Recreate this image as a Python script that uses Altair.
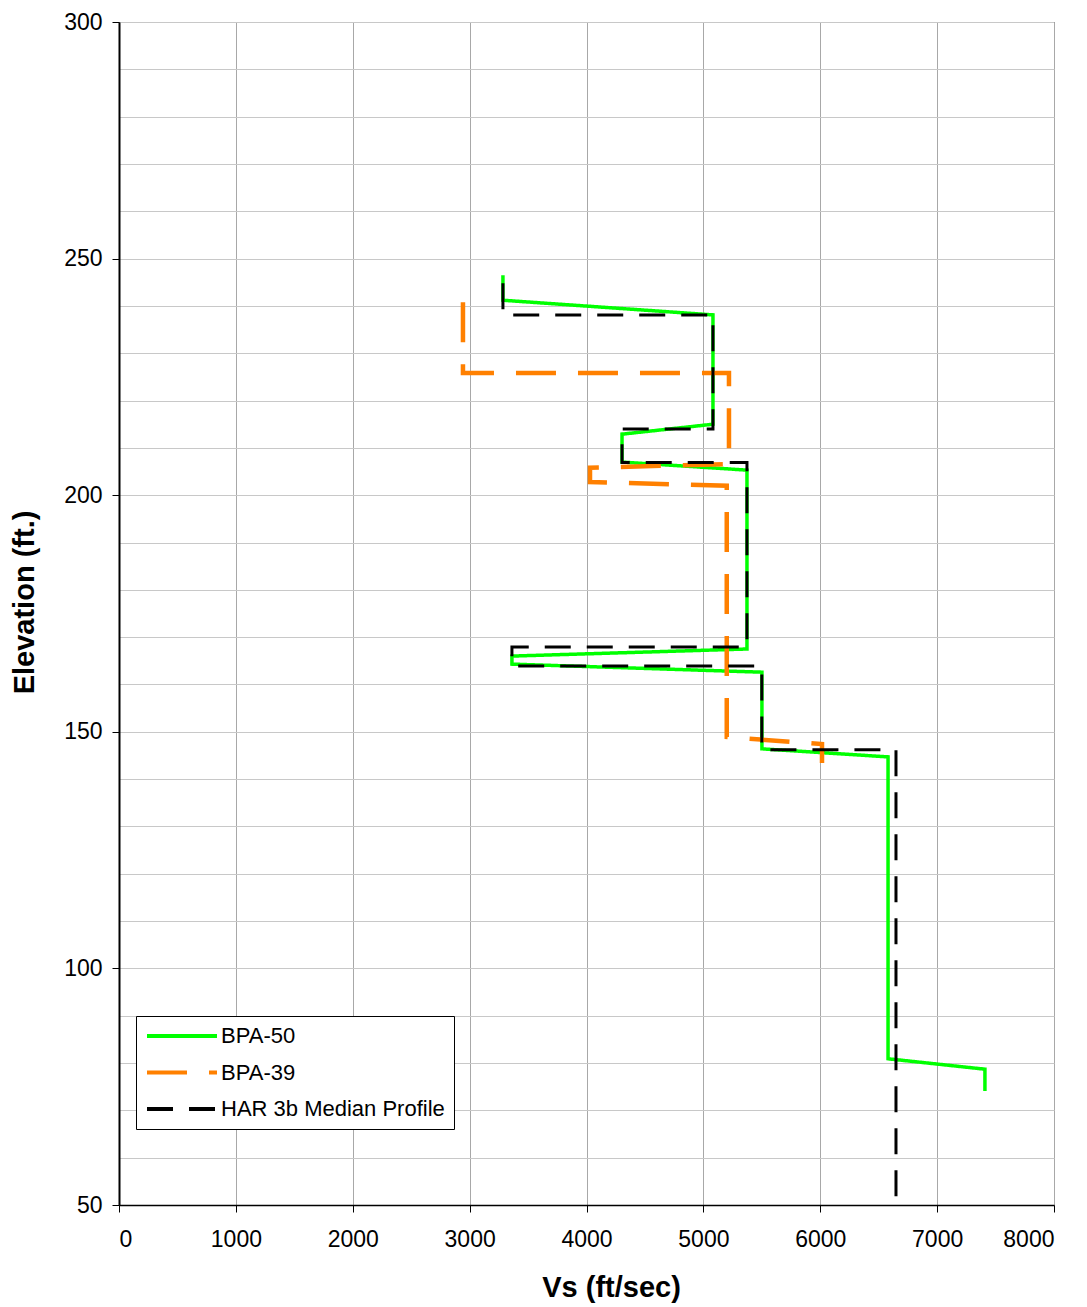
import altair as alt
import pandas as pd

# ---- data ----
series_names = ["BPA-50", "BPA-39", "HAR 3b Median Profile"]

bpa50_vs = [3285, 3285, 5082, 5082, 4304, 4304, 5373, 5373, 3362, 3362, 5501, 5501, 6580, 6580, 7409, 7409]
bpa50_elev = [246.5, 241.2, 238.1, 215.0, 212.9, 207.0, 205.3, 167.5, 166.0, 164.3, 162.6, 146.4, 144.7, 80.9, 78.7, 74.1]

bpa39_vs = [2943, 2943, 5219, 5219, 4030, 4030, 5200, 5200, 6015, 6015]
bpa39_elev = [240.8, 225.8, 225.8, 206.6, 205.8, 202.8, 202.0, 148.9, 147.4, 143.4]

har_vs = [3285, 3285, 5082, 5082, 4304, 4304, 5373, 5373, 3362, 3362, 5500, 5500, 6648, 6648]
har_elev = [244.8, 238.1, 238.1, 214.0, 214.0, 206.9, 206.9, 167.9, 167.9, 163.9, 163.9, 146.2, 146.2, 50.0]

x_ticks = list(range(0, 8001, 1000))
y_grid = list(range(50, 301, 10))

colors = ["#00FF00", "#FF8000", "#000000"]
dashes = [[1, 0], [40, 22], [26, 16]]
widths = [3.5, 4.5, 3]

rows = []
for name, xs, ys in zip(series_names, [bpa50_vs, bpa39_vs, har_vs], [bpa50_elev, bpa39_elev, har_elev]):
    for i, (x, y) in enumerate(zip(xs, ys)):
        rows.append({"series": name, "vs": x, "elev": y, "idx": i})
df = pd.DataFrame(rows)

FONT = "Liberation Sans"

x_enc = alt.X(
    "vs:Q",
    scale=alt.Scale(domain=[0, 8000], nice=False, zero=False),
    axis=alt.Axis(
        values=x_ticks, format="d", title="Vs (ft/sec)", grid=True, gridColor="#a8a8a8", gridWidth=1,
        tickSize=7, tickColor="black", domainColor="black", domainWidth=1.5,
        labelFont=FONT, labelFontSize=23, labelColor="black", labelPadding=16,
        titleFont=FONT, titleFontSize=29, titleFontWeight="bold", titleColor="black",
        titleX=492, titleY=91, titleAlign="center", titleBaseline="alphabetic", titleAnchor="start",
    ),
)
y_enc = alt.Y(
    "elev:Q",
    scale=alt.Scale(domain=[50, 300], nice=False, zero=False),
    axis=alt.Axis(
        values=y_grid, format="d", title="Elevation (ft.)", grid=True, gridColor="#c8c8c8", gridWidth=1,
        tickSize=7, tickColor="black",
        tickOpacity={"condition": {"test": "datum.value % 50 == 0", "value": 1}, "value": 0},
        labelExpr="datum.value % 50 == 0 ? datum.label : ''",
        domainColor="black", domainWidth=2,
        labelFont=FONT, labelFontSize=23, labelColor="black", labelPadding=10,
        titleFont=FONT, titleFontSize=29, titleFontWeight="bold", titleColor="black",
        titleX=-86, titleY=580, titleAlign="center", titleBaseline="alphabetic", titleAngle=270,
        titleAnchor="start",
    ),
)

legend_kw = dict(
    orient="none", legendX=17, legendY=994, title=None,
    symbolType="M-5,0L5,0", symbolSize=196, symbolStrokeWidth=4,
    symbolOffset=26, labelOffset=28, labelLimit=0,
    labelFont=FONT, labelFontSize=22, labelColor="black",
    strokeColor="black", fillColor="white", padding=9, rowPadding=14.5,
)

color_enc = alt.Color(
    "series:N",
    scale=alt.Scale(domain=series_names, range=colors),
    legend=alt.Legend(**legend_kw),
)
dash_enc = alt.StrokeDash(
    "series:N",
    scale=alt.Scale(domain=series_names, range=dashes),
    legend=alt.Legend(**legend_kw),
)

layers = []
for name, w in zip(series_names, widths):
    layers.append(
        alt.Chart(df)
        .transform_filter(alt.datum.series == name)
        .mark_line(strokeWidth=w, strokeCap="butt", strokeJoin="miter")
        .encode(x=x_enc, y=y_enc, color=color_enc, strokeDash=dash_enc, order="idx:Q")
    )

chart = (
    alt.layer(*layers)
    .properties(
        width=935, height=1183,
        padding={"left": 111, "top": 14, "right": 25, "bottom": 102},
        autosize=alt.AutoSizeParams(type="none"),
        background="white",
    )
    .configure_view(stroke="black", strokeWidth=1)
)

chart.save("out.html", embed_options={"renderer": "svg", "actions": False})
